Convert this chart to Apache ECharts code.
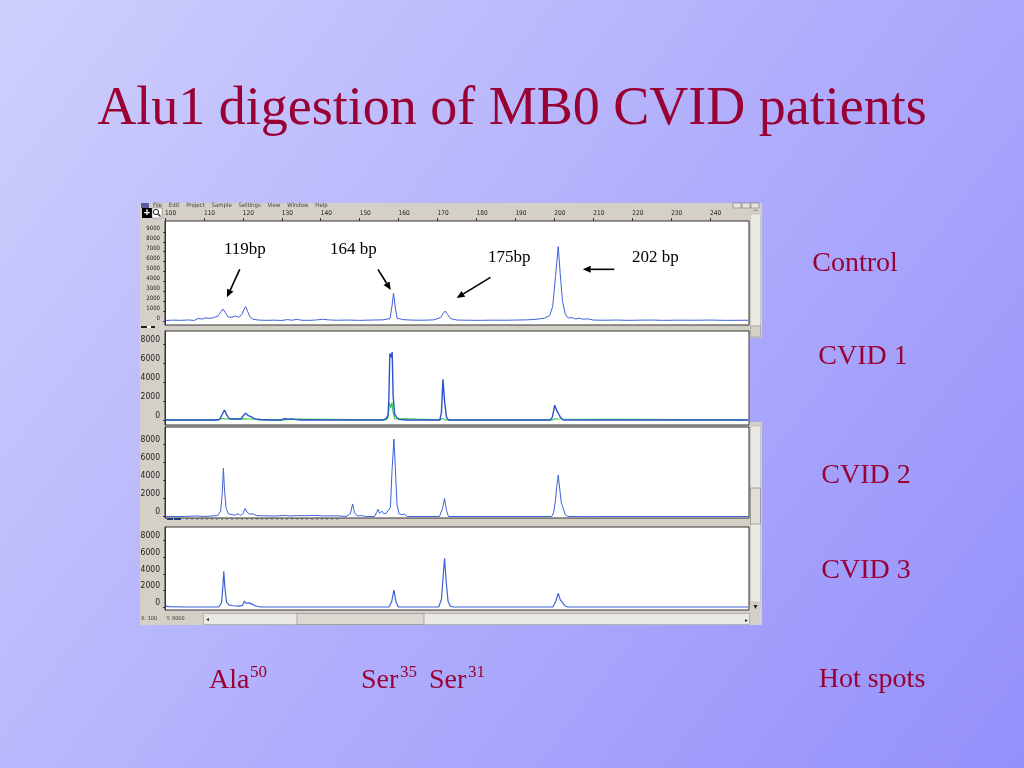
<!DOCTYPE html>
<html>
<head>
<meta charset="utf-8">
<script src="https://cdn.jsdelivr.net/npm/echarts@6/dist/echarts.min.js"></script>
<style>html,body{margin:0;padding:0;}#c{width:1024px;height:768px;}</style>
</head>
<body>
<div id="c"></div>
<script>
// ---------- DATA ----------
const bpTicks = [100,110,120,130,140,150,160,170,180,190,200,210,220,230,240];
const controlYTicks = [0,1000,2000,3000,4000,5000,6000,7000,8000,9000];
const cvidYTicks = [0,2000,4000,6000,8000];
const panelNames = ['Control','CVID 1','CVID 2','CVID 3'];
const peakLabels = ['119bp','164 bp','175bp','202 bp'];
const hotSpots = [['Ala','50'],['Ser','35'],['Ser','31']];

// [size (bp), fluorescence]
const controlTrace = [[100.2,60],[102,90],[104,70],[106,110],[107.5,60],[108.5,250],[109.5,200],[110.5,320],[111.5,260],[112.5,350],[113.6,500],[114.3,900],[114.9,1210],[115.5,850],[116.2,420],[117.2,380],[118.2,520],[119.0,360],[119.8,700],[120.3,1200],[120.7,1450],[121.2,1000],[121.8,420],[122.6,180],[124,100],[126,70],[128,90],[130,60],[131.5,150],[132.5,80],[134,170],[135,80],[137,70],[139,110],[140.5,180],[142,120],[144,80],[147,100],[150,70],[153,100],[156,120],[157.8,250],[158.3,1500],[158.7,2830],[159.1,1500],[159.6,300],[161,150],[163,100],[166,80],[169,120],[170.8,350],[171.5,800],[172.0,1010],[172.6,650],[173.3,250],[175,100],[178,80],[181,70],[184,90],[187,80],[190,100],[193,120],[195.5,180],[197.5,300],[198.8,550],[199.6,1500],[200.3,4500],[201.0,7510],[201.5,4800],[202.1,2000],[202.8,700],[203.6,300],[204.6,350],[205.5,200],[206.4,300],[207.3,180],[208.5,220],[210,100],[213,80],[216,100],[219,70],[222,90],[225,100],[228,70],[232,90],[236,80],[240,100],[244,70],[249.8,80]];

const cvid1Trace = [[100.2,0],[103,0],[106,0],[110,0],[113,0],[114.0,50],[114.7,600],[115.3,1050],[115.9,500],[116.5,150],[117.5,100],[118.5,120],[119.5,80],[120.0,400],[120.7,700],[121.4,450],[122.2,320],[123.0,120],[124.5,50],[127,0],[130,0],[130.6,150],[131.0,250],[131.5,80],[132.3,120],[132.8,300],[133.4,60],[135,0],[140,0],[145.5,0],[146,100],[146.5,0],[152.3,0],[152.7,120],[153.1,0],[156,0],[156.8,150],[157.3,500],[157.5,2200],[157.75,7000],[158.05,6600],[158.35,7150],[158.6,2500],[159.0,600],[159.5,300],[160.0,60],[162,0],[168,0],[170.6,0],[171.0,800],[171.4,4280],[171.8,2000],[172.3,300],[172.8,0],[180,0],[190,0],[199.0,0],[199.5,300],[200.1,1550],[200.6,1000],[201.1,650],[201.6,250],[202.3,0],[203.5,0],[203.8,120],[204.1,0],[207.5,0],[207.8,150],[208.1,0],[215,0],[230,0],[249.8,0]];

const cvid1Green = [[100.2,0],[113.5,0],[114.5,150],[116,100],[117.5,80],[119.5,150],[121,120],[123,100],[124,0],[130.5,0],[131,80],[132.5,80],[133,0],[156.8,0],[157.3,300],[157.6,1800],[157.85,1900],[158.05,1300],[158.3,1850],[158.55,900],[159.0,150],[159.5,0],[170.6,0],[171.2,150],[171.7,150],[172.3,0],[199.5,0],[200.2,120],[201,100],[201.5,0],[249.8,0]];

const cvid2Trace = [[100.2,0],[105,0],[108,60],[110,0],[112,50],[113.5,100],[114.3,600],[114.7,2500],[115.0,5350],[115.3,2800],[115.7,900],[116.3,300],[117.2,200],[118.0,150],[118.8,300],[119.4,120],[120.0,300],[120.6,900],[121.1,450],[121.8,250],[122.6,300],[123.4,100],[125,80],[128,50],[131,120],[132,60],[134,100],[136,80],[138,120],[141,60],[144,80],[146.5,0],[147.6,300],[148.2,1390],[148.7,400],[149.4,50],[150.5,100],[151.5,0],[153.8,0],[154.3,400],[154.7,800],[155.1,350],[155.7,600],[156.2,300],[156.8,350],[157.3,300],[157.9,1000],[158.3,5000],[158.8,8600],[159.2,5000],[159.6,1300],[160.1,300],[160.8,200],[161.5,250],[162.2,0],[170.5,0],[171.3,900],[171.8,2000],[172.3,700],[172.8,0],[199.3,0],[199.8,400],[200.3,1800],[200.6,3200],[201.0,4600],[201.4,3000],[201.8,1500],[202.3,900],[202.8,200],[203.5,0],[204.8,0],[205.2,150],[205.6,0],[207,0],[207.5,120],[208,0],[209.3,0],[209.8,180],[210.3,0],[211,0],[211.5,100],[212,0],[249.8,0]];

const cvid3Trace = [[100.2,100],[101,50],[105,0],[112,0],[113.8,0],[114.5,500],[114.8,2000],[115.1,4300],[115.4,2200],[115.8,600],[116.4,250],[117.5,150],[119,100],[119.9,200],[120.4,720],[120.9,450],[121.6,500],[122.3,350],[123.2,150],[124.5,0],[151.5,0],[152,60],[152.5,0],[157.5,0],[158.2,600],[158.8,2050],[159.3,700],[159.9,0],[170.3,0],[171.0,900],[171.4,3500],[171.8,5860],[172.2,3200],[172.7,700],[173.3,100],[174,0],[199.6,0],[200.3,600],[201.0,1650],[201.5,900],[202.0,600],[202.7,150],[203.4,0],[207.8,0],[208.2,100],[208.6,0],[249.8,0]];

// arrows in the control panel: [from, to] in (bp, fluorescence)
const arrowLines = [
  [[119.2,5220],[115.9,2390]],
  [[154.7,5220],[158.0,3130]],
  [[183.6,4410],[174.9,2320]],
  [[215.4,5220],[207.3,5220]]
];

// ---------- LAYOUT ----------
const red = '#990033';
const serif = '"Liberation Serif", "Times New Roman", serif';
const narrow = '"Liberation Sans Narrow", "DejaVu Sans Condensed", "Liberation Sans", sans-serif';
const traceBlue = '#3d62d8';
const grids = [
  {left:165, top:221, width:584, height:104, min:-400, max:10100, ticks:controlYTicks, fs:6},
  {left:165, top:331, width:584, height:94,  min:-530, max:9370,  ticks:cvidYTicks, fs:8.5},
  {left:165, top:427, width:584, height:91,  min:-170, max:9940,  ticks:cvidYTicks, fs:8.5},
  {left:165, top:527, width:584, height:83,  min:-360, max:9640,  ticks:cvidYTicks, fs:8.5}
];

const chart = echarts.init(document.getElementById('c'), null, {renderer:'canvas'});

const gridOpt = grids.map(g => ({left:g.left, top:g.top, width:g.width, height:g.height,
  show:true, backgroundColor:'#ffffff', borderColor:'#333', borderWidth:1, containLabel:false}));

const xAxes = grids.map((g,i) => ({
  type:'value', gridIndex:i, min:100, max:250, show:i===0, position:'top',
  splitLine:{show:false}, axisLine:{show:false, onZero:false},
  axisTick:{show:true, length:3, customValues:bpTicks, lineStyle:{color:'#333'}},
  axisLabel:{show:true, customValues:bpTicks, fontSize:6.5, color:'#222', align:'left', margin:4, fontFamily:narrow,
    formatter: v => String(v)}
}));

const yAxes = grids.map((g,i) => ({
  type:'value', gridIndex:i, min:g.min, max:g.max,
  splitLine:{show:false},
  axisLine:{show:true, onZero:false, lineStyle:{color:'#333'}},
  axisTick:{show:true, length:2, customValues:g.ticks, lineStyle:{color:'#333'}},
  axisLabel:{customValues:g.ticks, fontSize:g.fs, color:'#222', margin:5, verticalAlign:'bottom', fontFamily:narrow,
    formatter: v => String(v)}
}));

function lineSeries(data, idx, color, width, extra) {
  return Object.assign({type:'line', xAxisIndex:idx, yAxisIndex:idx, data:data, showSymbol:false,
    symbol:'none', lineStyle:{color:color, width:width}, itemStyle:{color:color},
    animation:false, silent:true, z:3}, extra||{});
}

const series = [
  lineSeries(controlTrace, 0, traceBlue, 1),
  lineSeries(cvid1Green, 1, '#2fcf3a', 1.2, {z:2}),
  lineSeries(cvid1Trace, 1, '#2c52d0', 1.4),
  lineSeries(cvid2Trace, 2, traceBlue, 1),
  lineSeries(cvid3Trace, 3, traceBlue, 1.2)
];

// window chrome (screenshot of the analysis software) + slide text
const gray = '#d4d0c8';
const g = [];
g.push({type:'rect', z:-5, shape:{x:140,y:203,width:610,height:422}, style:{fill:gray}});
g.push({type:'rect', z:-5, shape:{x:749,y:203,width:13,height:135}, style:{fill:gray}});
g.push({type:'rect', z:-4, shape:{x:750.5,y:214,width:10,height:112}, style:{fill:'#ebe9e3', stroke:'#b0aca4', lineWidth:0.5}});
g.push({type:'rect', z:-4, shape:{x:750.5,y:326,width:10,height:11}, style:{fill:gray, stroke:'#888', lineWidth:0.5}});
g.push({type:'rect', z:-5, shape:{x:749,y:422,width:13,height:203}, style:{fill:gray}});
g.push({type:'rect', z:-4, shape:{x:750.5,y:426,width:10,height:176}, style:{fill:'#ebe9e3', stroke:'#b0aca4', lineWidth:0.5}});
g.push({type:'rect', z:-4, shape:{x:750.5,y:488,width:10,height:36}, style:{fill:'#e2dfd8', stroke:'#777', lineWidth:0.6}});
g.push({type:'text', z:-3, x:755.5, y:607, style:{text:'▼', fontSize:7, fill:'#222', align:'center', verticalAlign:'middle'}});
g.push({type:'text', z:-3, x:755.5, y:210, style:{text:'–', fontSize:7, fill:'#444', align:'center', verticalAlign:'middle'}});
// menu bar
g.push({type:'text', z:-3, x:153, y:205.5, style:{text:'File    Edit    Project    Sample    Settings    View    Window    Help', fontSize:6, fill:'#444', verticalAlign:'middle', fontFamily:narrow}});
g.push({type:'rect', z:-3, shape:{x:141,y:203,width:8,height:5}, style:{fill:'#5a5aa0'}});
g.push({type:'rect', z:-3, shape:{x:733,y:203,width:8,height:5}, style:{fill:'#e6e3dc', stroke:'#666', lineWidth:0.5}});
g.push({type:'rect', z:-3, shape:{x:742,y:203,width:8,height:5}, style:{fill:'#e6e3dc', stroke:'#666', lineWidth:0.5}});
g.push({type:'rect', z:-3, shape:{x:751,y:203,width:8,height:5}, style:{fill:'#e6e3dc', stroke:'#666', lineWidth:0.5}});
// toolbar icons
g.push({type:'rect', z:-3, shape:{x:142,y:208,width:10,height:10}, style:{fill:'#000'}});
g.push({type:'text', z:-2, x:147, y:213, style:{text:'+', fontSize:11, fontWeight:'bold', fill:'#fff', align:'center', verticalAlign:'middle'}});
g.push({type:'rect', z:-3, shape:{x:152,y:208,width:10,height:10}, style:{fill:'#fff', stroke:'#666', lineWidth:0.5}});
g.push({type:'circle', z:-2, shape:{cx:156,cy:212,r:2.6}, style:{fill:'none', stroke:'#222', lineWidth:1}});
g.push({type:'line', z:-2, shape:{x1:158,y1:214,x2:160.5,y2:216.5}, style:{stroke:'#222', lineWidth:1.3}});
// gaps between panels
g.push({type:'rect', z:-3, shape:{x:141,y:326,width:14,height:2}, style:{fill:'#222'}});
g.push({type:'rect', z:-3, shape:{x:147,y:326,width:4,height:2}, style:{fill:'#fff'}});
g.push({type:'rect', z:-3, shape:{x:167,y:517.5,width:6,height:2.5}, style:{fill:'#233a8a'}});
g.push({type:'rect', z:-3, shape:{x:174,y:517.5,width:7,height:2.5}, style:{fill:'#233a8a'}});
g.push({type:'line', z:-3, shape:{x1:186,y1:519,x2:340,y2:519}, style:{stroke:'#555', lineWidth:0.8, lineDash:[2,3]}});
// status bar
g.push({type:'text', z:-3, x:141, y:619, style:{text:'X: 100      Y: 8000', fontSize:5.5, fill:'#333', verticalAlign:'middle', fontFamily:narrow}});
g.push({type:'rect', z:-3, shape:{x:203.5,y:613.5,width:546,height:11}, style:{fill:'#ebe9e3', stroke:'#999', lineWidth:0.6}});
g.push({type:'rect', z:-3, shape:{x:297,y:613.5,width:127,height:11}, style:{fill:'#dcd9d2', stroke:'#888', lineWidth:0.6}});
g.push({type:'text', z:-2, x:207, y:619, style:{text:'◂', fontSize:6, fill:'#333', align:'center', verticalAlign:'middle'}});
g.push({type:'text', z:-2, x:746, y:620, style:{text:'▸', fontSize:6, fill:'#333', align:'center', verticalAlign:'middle'}});

// slide texts
g.push({type:'text', z:10, x:512, y:110, style:{text:'Alu1 digestion of MB0 CVID patients', fontSize:54, fontFamily:serif, fill:red, align:'center', verticalAlign:'middle'}});
const panelLabelPos = [[855,264],[863,357],[866,476],[866,571]];
panelNames.forEach((t,i) => g.push({type:'text', z:10, x:panelLabelPos[i][0], y:panelLabelPos[i][1], style:{text:t, fontSize:28, fontFamily:serif, fill:red, align:'center', verticalAlign:'middle'}}));
g.push({type:'text', z:10, x:872, y:680, style:{text:'Hot spots', fontSize:28, fontFamily:serif, fill:red, align:'center', verticalAlign:'middle'}});
const hotPos = [209, 361, 429];
hotSpots.forEach((h,i) => {
  g.push({type:'text', z:10, x:hotPos[i], y:681, style:{text:h[0], fontSize:28, fontFamily:serif, fill:red, align:'left', verticalAlign:'middle'}});
  g.push({type:'text', z:10, x:hotPos[i] + (h[0]==='Ala'?41:39), y:673, style:{text:h[1], fontSize:17, fontFamily:serif, fill:red, align:'left', verticalAlign:'middle'}});
});
const peakLabelPos = [[224,250],[330,250],[488,258],[632,258]];
peakLabels.forEach((t,i) => g.push({type:'text', z:10, x:peakLabelPos[i][0], y:peakLabelPos[i][1], style:{text:t, fontSize:17, fontFamily:serif, fill:'#000', align:'left', verticalAlign:'middle'}}));

const baseOption = {
  animation:false,
  backgroundColor:{type:'linear', x:0, y:0, x2:1, y2:1, colorStops:[{offset:0,color:'#cfcffd'},{offset:1,color:'#9490fb'}]},
  grid:gridOpt,
  xAxis:xAxes,
  yAxis:yAxes,
  series:series,
  graphic:{elements:g}
};
chart.setOption(baseOption);

// arrows: positioned through the control panel's own scales
arrowLines.forEach(a => {
  const p0 = chart.convertToPixel({xAxisIndex:0, yAxisIndex:0}, a[0]);
  const p1 = chart.convertToPixel({xAxisIndex:0, yAxisIndex:0}, a[1]);
  const dx = p1[0]-p0[0], dy = p1[1]-p0[1];
  const len = Math.sqrt(dx*dx+dy*dy), ux = dx/len, uy = dy/len;
  const hl = 8, hw = 3.5;
  const bx = p1[0]-ux*hl, by = p1[1]-uy*hl;
  g.push({type:'line', z:9, shape:{x1:p0[0], y1:p0[1], x2:bx, y2:by}, style:{stroke:'#000', lineWidth:1.6}});
  g.push({type:'polygon', z:9, shape:{points:[[p1[0],p1[1]],[bx-uy*hw, by+ux*hw],[bx+uy*hw, by-ux*hw]]}, style:{fill:'#000'}});
});
chart.setOption({graphic:{elements:g}}, {replaceMerge:['graphic']});
</script>
</body>
</html>
